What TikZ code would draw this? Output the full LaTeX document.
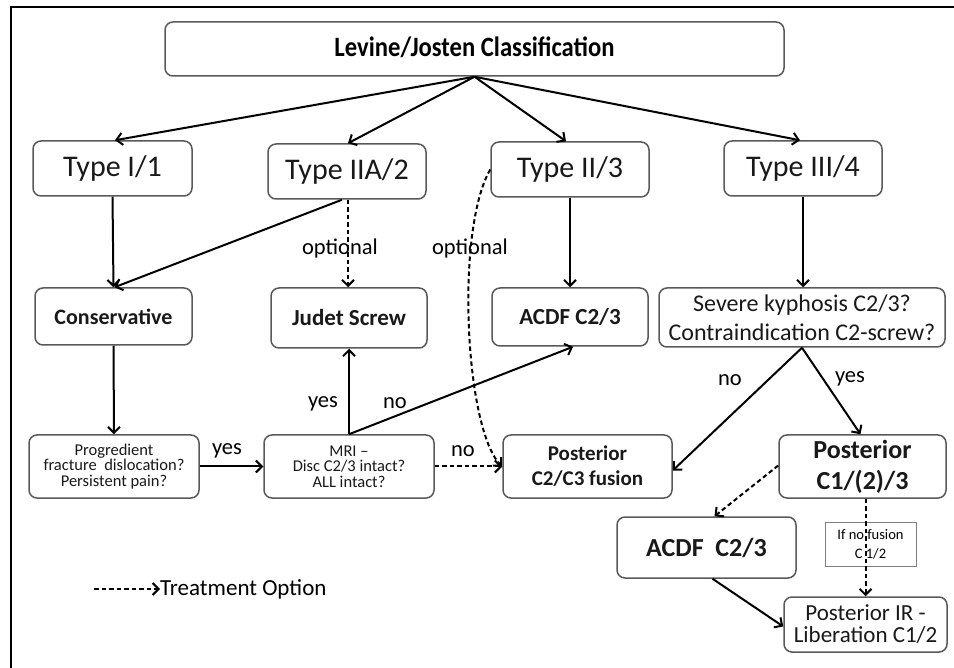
\documentclass[tikz,border=0pt]{standalone}
\usepackage{fontspec}
\setmainfont{Carlito}
\usetikzlibrary{arrows.meta,calc}
\tikzset{
  box/.style={draw=black!65, rounded corners=8pt, line width=1.5pt, align=center, inner sep=0pt, text=black!90},
  plain/.style={draw=black!50, line width=0.9pt, align=center, inner sep=0pt},
  arr/.style={-{Straight Barb[length=6pt,width=12pt]}, line width=2pt},
  darr/.style={arr, dash pattern=on 4.5pt off 3pt},
  lbl/.style={inner sep=0pt, font=\fontsize{22.5}{24}\selectfont},
  frame/.style={line width=2.5pt}
}
\newcommand{\fs}[2]{\fontsize{#1}{#2}\selectfont}
\begin{document}
\begin{tikzpicture}[x=1pt,y=-1pt]
\useasboundingbox (0,0) rectangle (954,668);
\draw[frame] (11,668) -- (11,7) -- (955,7);

% row 0
\node[box, minimum width=619pt, minimum height=54pt] (title) at (474.5,49) {};
\node[inner sep=0pt, anchor=base, font=\fs{28}{30}\bfseries] (titletext) at (474.5,57) {\scalebox{0.88}[1]{Levine/Josten Classification}};
% row 1
\node[box, minimum width=159pt, minimum height=55pt, font=\fs{30}{32}] (t1) at (112.5,168.5) {Type I/1};
\node[box, minimum width=158pt, minimum height=55pt, font=\fs{30}{32}] (t2) at (347,171.5) {Type IIA/2};
\node[box, minimum width=158pt, minimum height=55pt, font=\fs{30}{32}] (t3) at (570,169.5) {Type II/3};
\node[box, minimum width=158pt, minimum height=55pt, font=\fs{30}{32}] (t4) at (803,168.5) {Type III/4};
% row 2
\node[box, minimum width=157pt, minimum height=57pt, font=\fs{22}{24}\bfseries] (cons) at (113.5,316.5) {Conservative};
\node[box, minimum width=156pt, minimum height=60pt, font=\fs{23}{24}\bfseries] (judet) at (349,318) {Judet Screw};
\node[box, minimum width=156pt, minimum height=58pt, font=\fs{23}{24}\bfseries] (acdf1) at (570,317) {ACDF C2/3};
\node[box, minimum width=286pt, minimum height=59pt, font=\fs{24}{29}] (sev) at (802,317.5) {Severe kyphosis C2/3?\\Contraindication C2-screw?};
% row 3
\node[box, minimum width=170pt, minimum height=63pt, font=\fs{16.5}{15.5}] (prog) at (114,466.5) {Progredient\\fracture\ \ dislocation?\\Persistent pain?};
\node[box, minimum width=170pt, minimum height=63pt, font=\fs{16.5}{15.5}] (mri) at (349,466.5) {MRI --\\Disc C2/3 intact?\\ALL intact?};
\node[box, minimum width=169pt, minimum height=63pt, font=\fs{21}{25}\bfseries] (pf) at (587.5,466.5) {Posterior\\C2/C3 fusion};
\node[box, minimum width=167pt, minimum height=63pt, font=\fs{26}{31}\bfseries] (pc1) at (862.5,466.5) {Posterior\\C1/(2)/3};
% row 4
\node[box, minimum width=179pt, minimum height=61pt, font=\fs{26}{28}\bfseries] (acdf2) at (706.5,547.5) {ACDF\ \ C2/3};
\node[plain, minimum width=91pt, minimum height=44pt, font=\fs{14.5}{19}] (ifno) at (870.5,544) {If no fusion\\C 1/2};
\node[box, minimum width=163pt, minimum height=55pt, font=\fs{23}{22}] (pir) at (865.5,624.5) {Posterior IR -\\Liberation C1/2};

% legend
\node[anchor=west, inner sep=0pt, font=\fs{23}{24}] (leg) at (160,589) {Treatment Option};
\coordinate (legstart) at (94,589);
\draw[darr] (legstart) -- (leg.west);

% labels
\node[lbl] (o1) at (340,249) {optional};
\node[lbl] (o2) at (470,249) {optional};
\node[lbl] (y1) at (227,451) {yes};
\node[lbl] (n1) at (463,451) {no};
\node[lbl] (y2) at (323,404) {yes};
\node[lbl] (n2) at (395,403) {no};
\node[lbl] (n3) at (730,380) {no};
\node[lbl] (y3) at (850,379) {yes};

% connectors
\draw[arr] (title.south) -- ([xshift=2.5pt]t1.north);
\draw[arr] (title.south) -- ([xshift=1pt]t2.north);
\draw[arr] (title.south) -- ([xshift=-4pt]t3.north);
\draw[arr] (title.south) -- ([xshift=-3pt]t4.north);
\draw[arr] (t1.south) -- (cons.north);
\draw[arr] ([xshift=-5pt]t2.south) -- ([xshift=1pt]cons.north);
\draw[darr] ([xshift=1pt]t2.south) -- ([xshift=-1pt]judet.north);
\draw[arr] (t3.south) -- (acdf1.north);
\draw[arr] (t4.south) -- ([xshift=1pt]sev.north);
\draw[darr] (t3.west) .. controls (455,230) and (465,430) .. (pf.west);
\draw[arr] (cons.south) -- (prog.north);
\draw[arr] (prog.east) -- (mri.west);
\draw[arr] (mri.north) -- (judet.south);
\draw[arr] (mri.north) -- ([xshift=3pt]acdf1.south);
\draw[darr] (mri.east) -- (pf.west);
\draw[arr] (sev.south) -- ([yshift=-4pt]pf.east);
\draw[arr] (sev.south) -- ([xshift=-2pt]pc1.north);
\draw[darr] ([yshift=1pt]pc1.west) -- ([xshift=8pt]acdf2.north);
\draw[darr] (pc1.south -| pir.north) -- (pir.north);
\draw[arr] ([xshift=6pt]acdf2.south) -- ([yshift=-2pt]pir.west);
\end{tikzpicture}
\end{document}
